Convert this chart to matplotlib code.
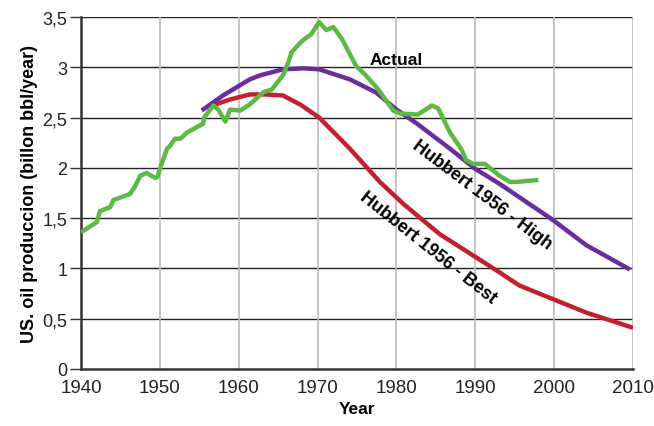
import matplotlib
matplotlib.use("Agg")
import matplotlib.pyplot as plt
from matplotlib.ticker import FuncFormatter

# --- data ---
actual_years = [1940, 1942, 1942.4, 1943.7, 1944.1, 1946.2, 1946.8, 1947.5, 1948.3, 1949.4,
                1949.7, 1950, 1950.9, 1951.3, 1951.9, 1952.6, 1953.4, 1955.5, 1955.6, 1956.8,
                1957.4, 1958.3, 1958.9, 1960.2, 1960.8, 1961.4, 1963.1, 1964.2, 1965.6, 1966.3,
                1966.7, 1968.0, 1969.2, 1970.2, 1971.1, 1972.0, 1973.1, 1974.9, 1976.0, 1977.7,
                1979.6, 1980.5, 1982.7, 1984.5, 1985.3, 1986.8, 1988.2, 1988.8, 1989.7, 1991.2,
                1993.1, 1994.4, 1995.2, 1998.0]
actual_vals = [1.36, 1.46, 1.57, 1.61, 1.68, 1.74, 1.81, 1.92, 1.95, 1.90,
               1.91, 1.99, 2.19, 2.22, 2.29, 2.29, 2.35, 2.44, 2.50, 2.62,
               2.58, 2.46, 2.58, 2.57, 2.60, 2.63, 2.75, 2.78, 2.92, 3.05,
               3.15, 3.26, 3.33, 3.45, 3.37, 3.40, 3.28, 3.01, 2.93, 2.78,
               2.57, 2.54, 2.53, 2.62, 2.59, 2.35, 2.19, 2.08, 2.04, 2.04,
               1.92, 1.86, 1.86, 1.88]

high_years = [1955.3, 1958, 1961.4, 1962.7, 1965.6, 1968.2, 1970.2, 1974.1, 1977.4, 1980.0,
              1982.6, 1986.8, 1990.0, 1993.1, 1999.7, 2004.1, 2009.6]
high_vals = [2.57, 2.72, 2.88, 2.92, 2.98, 2.99, 2.98, 2.88, 2.75, 2.58,
             2.44, 2.19, 1.99, 1.84, 1.49, 1.23, 0.99]

best_years = [1956.6, 1958.9, 1961.4, 1963.5, 1965.6, 1967.8, 1970.2, 1974.1, 1977.9, 1980.9,
              1985.5, 1992.7, 1995.6, 2004.1, 2010.0]
best_vals = [2.62, 2.68, 2.73, 2.73, 2.72, 2.63, 2.50, 2.19, 1.86, 1.64,
             1.34, 0.98, 0.83, 0.56, 0.41]

x_ticks = [1940, 1950, 1960, 1970, 1980, 1990, 2000, 2010]
y_ticks = [0, 0.5, 1, 1.5, 2, 2.5, 3, 3.5]

GREEN = "#5cb946"
PURPLE = "#6a2c9e"
RED = "#c3202e"

FAM = ['Liberation Sans', 'DejaVu Sans']
plt.rcParams['font.family'] = FAM

fig = plt.figure(figsize=(6.54, 4.27), dpi=100)
ax = fig.add_axes([0.1239, 0.1335, 0.844, 0.8243])

ax.set_xlim(1940, 2010)
ax.set_ylim(0, 3.5)
ax.set_xticks(x_ticks)
ax.set_yticks(y_ticks)
ax.yaxis.set_major_formatter(FuncFormatter(lambda v, p: ("%g" % v).replace(".", ",")))

for y in y_ticks[1:]:
    ax.axhline(y, color="#222222", lw=1.0, zorder=1)
for x in x_ticks[1:]:
    ax.axvline(x, color="#bbbbbb", lw=1.2, zorder=1)

ax.plot(best_years, best_vals, color=RED, lw=3.2, zorder=3, solid_capstyle='butt')
ax.plot(high_years, high_vals, color=PURPLE, lw=3.2, zorder=3, solid_capstyle='butt')
ax.plot(actual_years, actual_vals, color=GREEN, lw=3.2, zorder=4, solid_capstyle='butt')

for s in ["top", "right"]:
    ax.spines[s].set_visible(False)
for s in ["left", "bottom"]:
    ax.spines[s].set_color("#333333")
    ax.spines[s].set_linewidth(1.8)

ax.tick_params(axis='y', length=8, width=1, color="#333333", labelsize=13, pad=2, labelcolor="#222222")
ax.tick_params(axis='x', length=0, labelsize=13.5, pad=7, labelcolor="#222222")

ax.set_xlabel("Year", fontsize=12.5, fontweight='bold', labelpad=4)
ax.set_ylabel("US. oil produccion (billon bbl/year)", fontsize=13, fontweight='bold', labelpad=3)

ax.text(1980.0, 3.08, "Actual", fontsize=12.5, fontweight='bold', ha='center', va='center')
ax.text(1990.9, 1.74, "Hubbert 1956 - High", fontsize=13, fontweight='bold',
        ha='center', va='center', rotation=-37, rotation_mode='anchor')
ax.text(1984.0, 1.21, "Hubbert 1956 - Best", fontsize=13, fontweight='bold',
        ha='center', va='center', rotation=-38.5, rotation_mode='anchor')

fig.savefig("out.png", dpi=100)
